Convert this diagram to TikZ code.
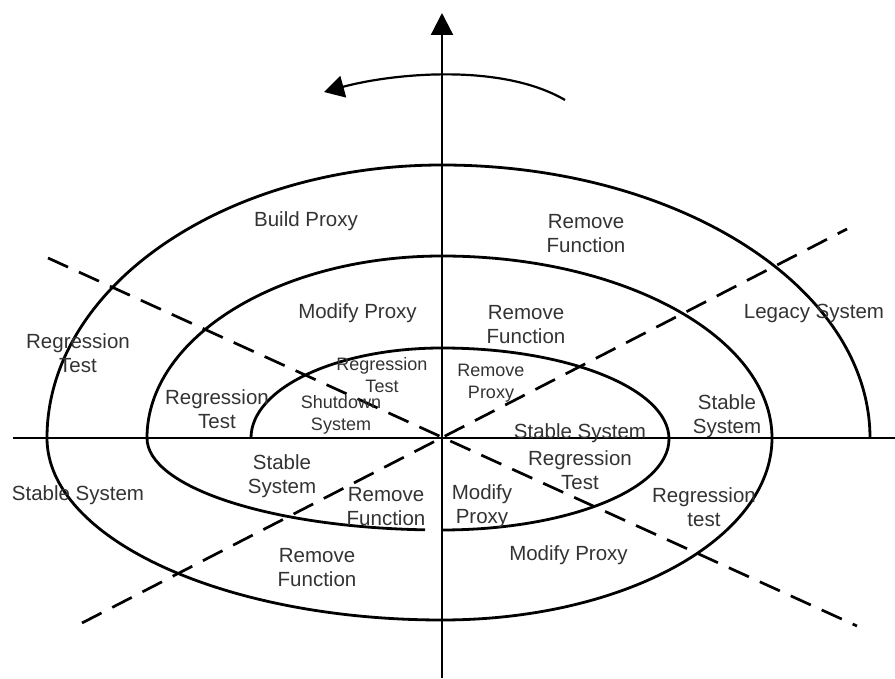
\documentclass[tikz,border=0pt]{standalone}
\usepackage{fontspec}
\setmainfont{Liberation Sans}
\usetikzlibrary{arrows.meta}
\begin{document}
\begin{tikzpicture}[x=1pt,y=1pt,
  curve/.style={line width=2.8pt},
  axisline/.style={line width=2.3pt},
  dline/.style={line width=2.7pt, dash pattern=on 22pt off 12pt},
  lbl/.style={text=black!80, font=\fontsize{20.5}{24}\selectfont, align=center, inner sep=0pt},
  slbl/.style={lbl, font=\fontsize{18}{22}\selectfont}]
\useasboundingbox (0,0) rectangle (895,678);
\coordinate (O) at (442,240);
% axes
\coordinate (hl) at (13,240);
\coordinate (hr) at (895,240);
\coordinate (vb) at (442,0);
\coordinate (vt) at (442,665);
\draw[axisline] (hl) -- (hr);
\draw[axisline,-{Triangle[length=22pt,width=22pt]}] (vb) -- (vt);
% dashed lines
\coordinate (d1a) at (48,420);
\coordinate (d1b) at (857,52);
\coordinate (d2a) at (82,55);
\coordinate (d2b) at (847,449);
\draw[dline] (d1a) -- (d1b);
\draw[dline] (d2a) -- (d2b);
% spiral
\coordinate (s0) at (251,240);
\draw[curve] (s0) arc[start angle=180,end angle=90,x radius=191pt,y radius=90pt]
  arc[start angle=90,end angle=-90,x radius=227pt,y radius=91pt];
\draw[curve] (O) ++(266.7:295pt and 92pt)
  arc[start angle=266.7,end angle=180,x radius=295pt,y radius=92pt]
  arc[start angle=180,end angle=90,x radius=295pt,y radius=182pt]
  arc[start angle=90,end angle=0,x radius=330pt,y radius=182pt]
  arc[start angle=0,end angle=-90,x radius=330pt,y radius=182pt]
  arc[start angle=270,end angle=180,x radius=395pt,y radius=182pt]
  arc[start angle=180,end angle=90,x radius=395pt,y radius=273pt]
  arc[start angle=90,end angle=0,x radius=428pt,y radius=273pt];
% rotation arrow
\coordinate (ra) at (565,578);
\coordinate (rb) at (324,586);
\draw[line width=2.2pt,-{Triangle[length=20pt,width=22pt]}] (ra) .. controls (500,616) and (390,604) .. (rb);
% labels
\node[lbl] (l1) at (306,457) {Build Proxy};
\node[lbl] (l2) at (586,444) {Remove\\Function};
\node[lbl] (l3) at (814,365) {Legacy System};
\node[lbl] (l4) at (78,324.5) {Regression\\Test};
\node[lbl] (l5) at (357.5,365) {Modify Proxy};
\node[lbl] (l6) at (526,353) {Remove\\Function};
\node[lbl] (l7) at (217,268.5) {Regression\\Test};
\node[slbl] (l8) at (382,303) {Regression\\Test};
\node[slbl] (l9) at (341,263.5) {Shutdown\\System};
\node[slbl] (l10) at (491,294.5) {Remove\\Proxy};
\node[lbl] (l11) at (580,245) {Stable System};
\node[lbl] (l12) at (580,207.5) {Regression\\Test};
\node[lbl] (l13) at (282,202) {Stable\\System};
\node[lbl] (l14) at (386,171.5) {Remove\\Function};
\node[lbl] (l15) at (482,171.5) {Modify\\Proxy};
\node[lbl] (l16) at (727,261.5) {Stable\\System};
\node[lbl] (l17) at (78,183) {Stable System};
\node[lbl] (l18) at (704,171) {Regression\\test};
\node[lbl] (l19) at (568.5,123) {Modify Proxy};
\node[lbl] (l20) at (317,110.5) {Remove\\Function};
\end{tikzpicture}
\end{document}
